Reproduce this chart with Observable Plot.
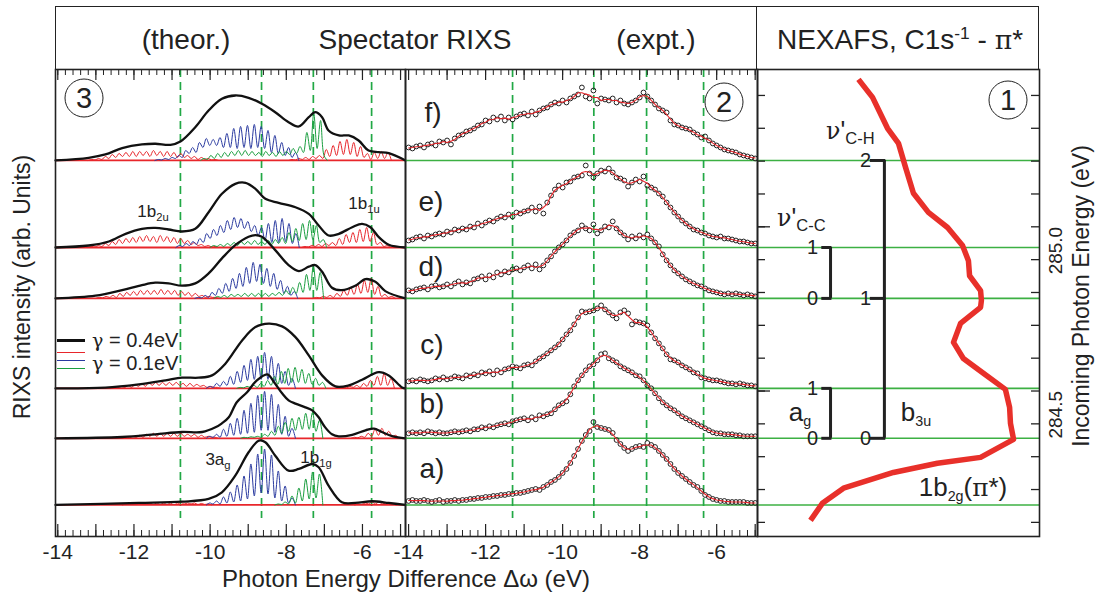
<!DOCTYPE html>
<html><head><meta charset="utf-8">
<script src="https://cdn.jsdelivr.net/npm/d3@7"></script>
<script src="https://cdn.jsdelivr.net/npm/@observablehq/plot@0.6"></script>
<style>
body{margin:0;background:#fff;}
#fig{position:relative;width:1099px;height:599px;font-family:"Liberation Sans",Arial,sans-serif;color:#222;overflow:hidden;background:#fff}
.abs{position:absolute;white-space:nowrap;transform:translate(-50%,-50%);line-height:1}
.lft{position:absolute;white-space:nowrap;transform:translate(0,-50%);line-height:1}
.circ{position:absolute;border:1.7px solid #222;border-radius:50%;width:39px;height:39px;box-sizing:border-box;transform:translate(-50%,-50%);display:flex;align-items:center;justify-content:center;font-size:29px;line-height:1}
.panel{position:absolute;top:69px}
.sb{font-size:0.66em;position:relative;top:0.32em;line-height:1}
.sp{font-size:0.62em;position:relative;top:-0.55em;line-height:1}
.gk{font-family:"DejaVu Serif","Liberation Serif",serif;font-size:0.95em;line-height:1}
.rot{position:absolute;white-space:nowrap;line-height:1;transform:translate(-50%,-50%) rotate(-90deg)}
.leg{position:absolute;left:57px;width:28px}
</style></head><body>
<div id="fig">
  <div id="pLeft" class="panel" style="left:55px"></div>
  <div id="pMid" class="panel" style="left:405px"></div>
  <div id="pRight" class="panel" style="left:757px"></div>

  <div style="position:absolute;left:55px;top:6px;width:984px;height:64px;box-sizing:border-box;border:1.5px solid #222;border-bottom:none"></div>
  <div style="position:absolute;left:756px;top:6px;height:63px;border-left:1.5px solid #222"></div>
  <div class="abs" style="left:186px;top:40px;font-size:28px">(theor.)</div>
  <div class="abs" style="left:415px;top:40px;font-size:28px">Spectator RIXS</div>
  <div class="abs" style="left:656px;top:40px;font-size:28px">(expt.)</div>
  <div class="abs" style="left:900px;top:40px;font-size:28px">NEXAFS, C1s<span class="sp">-1</span> - <span class="gk">π</span>*</div>

  <div class="rot" style="left:22px;top:287px;font-size:23px">RIXS intensity (arb. Units)</div>
  <div class="rot" style="left:1081px;top:296px;font-size:23px">Incoming Photon Energy (eV)</div>
  <div class="abs" style="left:406px;top:579px;font-size:24px">Photon Energy Difference Δω (eV)</div>

  <div class="circ" style="left:84px;top:98px">3</div>
  <div class="circ" style="left:724px;top:102px">2</div>
  <div class="circ" style="left:1008px;top:100px">1</div>

  <div class="abs" style="left:153px;top:211px;font-size:17px">1b<span class="sb">2u</span></div>
  <div class="abs" style="left:364px;top:203px;font-size:17px">1b<span class="sb">1u</span></div>
  <div class="abs" style="left:218px;top:459px;font-size:17px">3a<span class="sb">g</span></div>
  <div class="abs" style="left:316px;top:457px;font-size:17px">1b<span class="sb">1g</span></div>

  <div class="leg" style="top:339px;height:3px;background:#111"></div>
  <div class="leg" style="top:352px;height:1.3px;background:#e8262b"></div>
  <div class="leg" style="top:360px;height:1.3px;background:#2a3aa0"></div>
  <div class="leg" style="top:368px;height:1.3px;background:#1a9e3f"></div>
  <div class="lft" style="left:92px;top:340px;font-size:20px;height:20px"><span class="gk">γ</span> = 0.4eV</div>
  <div class="lft" style="left:92px;top:363px;font-size:20px;height:20px"><span class="gk">γ</span> = 0.1eV</div>

  <div class="abs" style="left:433px;top:113px;font-size:28px">f)</div>
  <div class="abs" style="left:431px;top:202px;font-size:28px">e)</div>
  <div class="abs" style="left:431px;top:267px;font-size:28px">d)</div>
  <div class="abs" style="left:432px;top:345px;font-size:28px">c)</div>
  <div class="abs" style="left:432px;top:404px;font-size:28px">b)</div>
  <div class="abs" style="left:432px;top:469px;font-size:28px">a)</div>

  <div class="lft" style="left:826px;top:131px;font-size:25px"><span class="gk">ν</span>'<span class="sb">C-H</span></div>
  <div class="lft" style="left:777px;top:218px;font-size:25px"><span class="gk">ν</span>'<span class="sb">C-C</span></div>
  <div class="abs" style="left:800px;top:412px;font-size:26px">a<span class="sb" style="font-size:0.55em">g</span></div>
  <div class="abs" style="left:916px;top:412px;font-size:26px">b<span class="sb" style="font-size:0.55em">3u</span></div>
  <div class="abs" style="left:963px;top:487px;font-size:26px">1b<span class="sb" style="font-size:0.55em">2g</span>(<span class="gk">π</span>*)</div>
</div>
<script>
// ---------------- data ----------------
const spectrumLabels = ["a)", "b)", "c)", "d)", "e)", "f)"];
// excitation (incoming photon) energies of the six spectra, eV
const excitationEnergy = [284.153, 284.356, 284.508, 284.782, 284.937, 285.202];
// vertical dashed guide lines (eV)
const dashTheory = [-10.78, -8.65, -7.29, -5.76];
const dashExpt = [-11.30, -9.19, -7.82, -6.34];
// axis ticks
const xLabelTicks = [-14, -12, -10, -8, -6];
const xMajorTicks = [-14, -13, -12, -11, -10, -9, -8, -7, -6, -5];
const energyTicks = [284.1, 284.2, 284.3, 284.4, 284.5, 284.6, 284.7, 284.8, 284.9, 285.0, 285.1, 285.2, 285.3, 285.4];
const energyLabelTicks = [284.5, 285.0];

// theory, gamma = 0.4 eV envelope: [energy difference, intensity]
const broadCurves = [
  [[-14.06,0],[-11.87,2],[-10.74,3.3],[-10.04,6],[-9.69,12.7],[-9.34,29.3],[-8.99,52.7],[-8.72,64.3],[-8.55,62.7],[-8.29,49.3],[-7.94,34.3],[-7.67,36],[-7.32,41],[-7.15,37.7],[-6.89,19.3],[-6.54,2.7],[-6.19,2],[-5.75,3.7],[-5.31,2],[-4.87,0]],
  [[-14.06,0],[-12.31,1.3],[-11.44,4],[-10.74,6.3],[-10.21,6.3],[-9.86,11],[-9.69,15],[-9.51,21],[-9.3,36],[-9.03,46],[-8.8,57],[-8.5,64],[-8.3,55],[-8.11,45],[-7.94,38],[-7.76,34.7],[-7.5,31],[-7.32,28],[-7.15,21],[-7.0,12],[-6.8,4],[-6.62,2],[-6.27,3.5],[-5.92,8],[-5.7,9.7],[-5.49,6.3],[-5.2,2],[-4.87,0]],
  [[-14.06,0],[-12.75,0.7],[-11.87,4],[-11.17,8],[-10.74,10.7],[-10.30,10.7],[-9.95,13],[-9.60,24.7],[-9.16,48],[-8.81,61.3],[-8.46,64.7],[-8.11,62],[-7.76,51.3],[-7.41,33],[-7.06,13],[-6.71,2],[-6.36,3],[-6.01,8.7],[-5.57,16.3],[-5.31,13],[-4.96,1],[-4.87,0]],
  [[-14.06,0],[-13.01,2.7],[-12.31,8.3],[-11.79,13.3],[-11.44,15.7],[-11.09,15],[-10.74,12.7],[-10.39,15],[-10.04,25],[-9.69,40],[-9.34,53.3],[-8.99,61.7],[-8.81,63.3],[-8.64,61.7],[-8.29,48.3],[-7.94,33.3],[-7.67,27.3],[-7.41,31.7],[-7.24,33.3],[-7.06,26.7],[-6.80,10.7],[-6.54,8.3],[-6.19,12.7],[-5.92,19.3],[-5.66,16.7],[-5.40,7.3],[-4.87,0]],
  [[-14.06,0],[-13.19,2],[-12.66,6],[-12.22,13.7],[-11.79,18.7],[-11.44,19.7],[-11.09,18],[-10.74,16],[-10.39,18.7],[-10.04,35.3],[-9.69,53.7],[-9.34,63.7],[-9.07,64.7],[-8.81,58.7],[-8.55,48.7],[-8.20,44.7],[-7.76,40.3],[-7.41,33.7],[-7.15,22],[-6.89,12],[-6.62,13.7],[-6.27,20.3],[-6.01,23.7],[-5.79,20.3],[-5.57,10.3],[-5.31,2.7],[-4.87,0]],
  [[-14.06,0],[-13.19,2.7],[-12.75,6],[-12.31,12.3],[-11.79,16],[-11.44,16.7],[-11.04,15.7],[-10.78,19],[-10.39,33.3],[-10.04,50],[-9.69,61.7],[-9.34,65],[-8.99,62.7],[-8.64,56.7],[-8.29,48.3],[-7.94,38.3],[-7.67,34],[-7.41,43.3],[-7.24,48.3],[-7.06,43.3],[-6.89,30],[-6.62,25],[-6.36,25],[-6.10,20],[-5.84,10],[-5.57,8.3],[-5.31,7.3],[-4.87,0]]
];

// theory, gamma = 0.1 eV vibrational progressions: start energy and successive
// trough/peak intensities read every half vibrational quantum (0.09 eV)
const redLowStart = [-12.3, -12.3, -12.6, -13.0, -13.2, -13.2];
const redLowHeights = [
  [0,1,0.5,1.5,0.5,2,1,2,1,2.5,1,2.5,1,2.5,1,3,1,2.5,1,2,1,2,0.5,1.5,0.5,1,0],
  [0,1,0.5,2,1,3,1,4,2,5,2,5,2,5,2,5,2,5,2,4,2,4,1,3,1,2,1,1,0],
  [0,1,0.5,2,1,3,1,4,2,5,2,6,3,6,3,6,3,6,3,6,3,5,2,5,2,4,2,3,1,2,1,1,0],
  [0,1,0.5,2,1,3,1,5,2,6,3,7,3,8,4,8,4,8,4,9,4,8,4,8,3,7,3,6,2,5,2,3,1,2,1,1,0],
  [0,1,0.5,2,1,4,2,6,3,8,4,9,5,10,5,11,6,12,6,11,5,12,6,11,5,10,4,9,4,7,3,5,2,3,1,2,0.5,1,0],
  [0,1,0.5,2,1,4,2,6,3,7,4,8,4,9,4,9,5,9,4,10,5,9,4,9,4,8,3,7,3,5,2,4,1,3,1,2,0.5,1,0]
];
const redHighStart = [-6.2, -6.3, -6.6, -7.3, -7.6, -7.94];
const redHighHeights = [
  [0,1,0.5,2,1,3,1,3,1,2,0.5,1,0],
  [0,1,0.5,2,1,5,2,9,3,10,3,7,2,3,0],
  [0,1,0.5,2,1,3,1,5,2,8,3,12,3,15,3,10,0],
  [0,1,0.5,2,1,3,1,5,2,8,3,11,4,14,5,18,6,20,4,12,2,4,1,2,0],
  [0,1,0.5,2,1,3,1,4,2,5,2,9,3,13,5,15,5,18,6,20,6,15,3,5,1,2,0],
  [0,1,0.5,2,1,3,1,4,2,5,2,11,4,15,5,19,6,21,6,18,4,14,3,7,1,8,2,9,2,8,0]
];
const blueStart = [-10.1, -10.1, -10.1, -10.4, -10.9, -11.45];
const blueHeights = [
  [0,2,1,4,1,8,2,13,3,20,4,29,6,41,9,51,12,56,11,50,7,34,4,19,2,7,0],
  [0,2,1,4,1,9,2,15,3,20,4,28,5,35,6,43,8,47,8,44,6,34,4,22,2,10,0],
  [0,2,1,5,2,7,3,12,4,17,6,23,8,29,9,32,9,36,9,32,7,25,5,17,3,10,0],
  [0,1,0.5,3,1,6,3,10,5,15,7,20,10,25,12,31,15,36,17,34,15,30,12,25,9,18,5,12,3,7,0],
  [0,2,1,4,2,6,3,9,5,14,9,18,12,22,15,27,18,30,20,29,19,26,16,22,12,20,7,24,5,27,5,29,6,24,4,14,0],
  [0,1,0.5,2,1,3,2,5,3,10,7,13,8,18,13,22,15,21,15,23,13,27,13,32,12,34,13,35,12,36,13,34,12,30,8,25,7,18,5,13,3,8,0]
];
const greenStart = [-8.3, -9.2, -9.3, -9.9, -10.0, -10.25];
const greenHeights = [
  [0,1,0.5,3,1,9,2,17,4,26,6,33,7,31,0],
  [0,1,0.5,1.5,1,2,1,4,2,7,3,12,5,16,7,20,8,21,9,25,9,26,7,18,0],
  [0,1,0.5,2,1,3,1,5,2,8,3,12,4,17,5,20,6,21,6,19,5,15,4,10,3,6,0],
  [0,2,1,3,1,4,2,4,2,5,2,5,2,5,2,5,2,5,3,6,3,8,4,11,5,16,6,24,8,32,8,26,0],
  [0,2,1,3,1,4,2,5,2,6,3,6,3,7,3,6,3,7,3,8,4,10,4,15,6,19,7,24,8,27,8,22,5,8,0],
  [0,2,1,5,2,7,3,8,4,9,5,10,5,10,5,9,5,8,4,9,5,8,4,9,5,9,6,12,7,14,8,28,10,47,12,40,5,0]
];

// experiment: counts sampled every 0.1 eV from -14.0 to -5.0
const exptStart = -14.0, exptStep = 0.1;
const exptHeights = [
  [4,5,4,4,5,4,3,4,5,3, 4,4,5,4,5,5,6,6,7,7, 8,8,9,9,10,10,11,11,12,12, 13,14,15,16,15,18,20,23,25,28, 32,36,42,49,56,64,70,74,83,78, 77,76,75,72,65,61,57,54,56,58, 59,58,62,60,58,54,50,46,41,36, 32,29,26,23,20,18,14,10,8,6, 5,4,4,3,3,3,3,3,2,2, 2],
  [5,6,5,6,5,7,6,5,6,5, 5,6,7,6,7,8,7,9,9,11, 10,12,11,13,14,15,14,17,18,19, 20,18,21,19,23,22,24,25,29,33, 35,37,44,52,58,63,68,72,74,78, 84,85,80,78,76,72,70,68,66,63, 62,58,53,50,45,40,36,33,30,28, 25,22,20,18,16,14,12,10,8,6, 5,5,4,4,4,3,3,2,2,2, 2],
  [7,8,7,9,8,7,8,10,9,11, 9,10,12,11,10,13,12,14,13,16, 15,17,14,18,16,19,20,22,21,20, 23,24,23,27,30,32,35,38,41,44, 49,54,58,64,71,77,76,77,78,80, 83,79,76,73,70,76,78,75,64,67, 66,65,63,56,50,45,40,34,29,28, 26,23,21,19,16,15,11,10,9,8, 8,7,6,5,5,4,5,4,3,3, 2],
  [8,7,9,10,11,9,12,13,11,12, 14,12,15,17,14,16,15,19,20,22, 19,23,21,26,24,27,26,29,30,28, 31,33,30,34,29,33,38,42,47,51, 54,58,63,66,68,73,70,68,74,65, 68,72,71,77,70,66,63,59,62,60, 63,61,64,60,56,52,44,38,33,28, 25,22,19,17,15,13,12,10,8,7, 6,5,4,5,4,5,4,3,4,3, 2],
  [7,8,10,11,9,12,11,13,14,13, 16,15,18,17,19,18,21,20,24,22, 25,27,26,29,31,30,33,31,35,34, 36,37,40,36,41,34,45,52,58,62, 60,65,66,70,71,72,82,74,70,74, 77,76,79,75,70,69,67,61,65,68, 66,71,62,60,58,54,51,45,40,35, 31,27,24,21,18,17,15,14,12,11, 10,11,9,9,8,7,6,6,5,4, 4],
  [13,12,14,15,13,16,17,15,19,18, 20,16,22,25,26,29,30,32,35,36, 40,39,43,41,44,40,43,41,44,46, 47,45,49,46,50,52,53,56,58,57, 60,58,62,64,66,73,64,62,70,57, 62,61,60,62,58,60,57,56,58,60, 63,68,64,60,56,52,50,48,40,36, 35,33,32,31,28,26,23,24,20,17, 15,13,11,10,9,8,6,5,4,3, 2]
];

// NEXAFS, C1s -> pi*
const nexafsEnergy = [285.449,285.394,285.300,285.254,285.181,285.102,285.044,284.998,284.943,284.897,284.851,284.806,284.776,284.755,284.706,284.648,284.599,284.554,284.505,284.450,284.402,284.353,284.298,284.280,284.252,284.204,284.158,284.106];
const nexafsIntensity = [35.8,40.8,46.1,50.0,52.5,55.3,60.6,67.4,72.7,74.8,75.2,79.1,79.4,79.1,72.0,69.5,73.0,80.1,87.9,89.4,89.7,90.8,79.1,63.8,48.2,30.5,23.0,18.8];

// vibrational level assignments (indices into the spectra) and quantum numbers
const chLevels = [1, 3, 5], chQuanta = [0, 1, 2];
const ccLevels = [3, 4], ccQuanta = [0, 1];
const agLevels = [1, 2], agQuanta = [0, 1];

// ---------------- drawing ----------------
const FONT = '"Liberation Sans", Arial, sans-serif';
const INK = "#222", RED = "#e8262b", BLUE = "#2a3aa0", GREEN = "#1a9e3f", GUIDE = "#21a845", LINEGREEN = "#3cb043";
const PANEL_H = 467;
const Y_DOMAIN = [284.057, 285.479];
const UNIT = 1 / 328.5;      // stacking: intensity unit expressed in eV of the shared vertical axis
const HALF_STEP = 0.09;
const xMinorTicks = d3.range(-14, -4.85, 0.2);
const style = {overflow: "visible", background: "transparent", fontFamily: FONT, color: INK};

function progression(starts, heights, tag) {
  return heights.flatMap((hs, s) => hs.map((h, i) => ({x: starts[s] + i * HALF_STEP, y: excitationEnergy[s] + h * UNIT, z: tag + s})));
}
const redRows = progression(redLowStart, redLowHeights, "rl").concat(progression(redHighStart, redHighHeights, "rh"));
const blueRows = progression(blueStart, blueHeights, "b");
const greenRows = progression(greenStart, greenHeights, "g");
const broadRows = broadCurves.flatMap((pts, s) => pts.map(([x, h]) => ({x, y: excitationEnergy[s] + h * UNIT, z: s})));
const exptRows = exptHeights.flatMap((hs, s) => hs.map((h, i) => ({x: exptStart + i * exptStep, y: excitationEnergy[s] + h * UNIT, z: s})));

function frameTicks() {
  return [
    Plot.ruleX(xMinorTicks, {insetBottom: PANEL_H - 6, stroke: INK, strokeWidth: 1}),
    Plot.ruleX(xMinorTicks, {insetTop: PANEL_H - 6, stroke: INK, strokeWidth: 1}),
    Plot.ruleX(xMajorTicks, {insetBottom: PANEL_H - 11, stroke: INK, strokeWidth: 1.2}),
    Plot.ruleX(xMajorTicks, {insetTop: PANEL_H - 12, stroke: INK, strokeWidth: 1.2}),
    Plot.axisX(xLabelTicks, {anchor: "bottom", label: null, tickSize: 0, tickPadding: 8, fontSize: 21, tickFormat: d => String(d)})
  ];
}

const left = Plot.plot({
  width: 350, height: PANEL_H, margin: 0, style,
  x: {domain: [-14.06, -4.87]},
  y: {domain: Y_DOMAIN, axis: null},
  marks: [
    Plot.ruleX(dashTheory, {stroke: GUIDE, strokeWidth: 1.7, strokeDasharray: "8,5", insetBottom: 18}),
    Plot.ruleY(excitationEnergy, {stroke: RED, strokeWidth: 1.8}),
    Plot.line(redRows, {x: "x", y: "y", z: "z", stroke: RED, strokeWidth: 1, curve: "catmull-rom"}),
    Plot.line(blueRows, {x: "x", y: "y", z: "z", stroke: BLUE, strokeWidth: 1, curve: "catmull-rom"}),
    Plot.line(greenRows, {x: "x", y: "y", z: "z", stroke: GREEN, strokeWidth: 1, curve: "catmull-rom"}),
    Plot.line(broadRows, {x: "x", y: "y", z: "z", stroke: "#111", strokeWidth: 2.3, curve: "catmull-rom"}),
    ...frameTicks(),
    Plot.frame({stroke: INK, strokeWidth: 1.6})
  ]
});
document.getElementById("pLeft").append(left);

const mid = Plot.plot({
  width: 352, height: PANEL_H, margin: 0, style,
  x: {domain: [-14.08, -4.94]},
  y: {domain: Y_DOMAIN, axis: null},
  marks: [
    Plot.ruleY(excitationEnergy, {stroke: LINEGREEN, strokeWidth: 1.6}),
    Plot.ruleX(dashExpt, {stroke: GUIDE, strokeWidth: 1.7, strokeDasharray: "8,5", insetBottom: 18}),
    Plot.dot(exptRows, {x: "x", y: "y", r: 2.4, stroke: INK, strokeWidth: 1, fill: "none"}),
    Plot.line(exptRows, Plot.windowY({k: 3}, {x: "x", y: "y", z: "z", stroke: RED, strokeWidth: 1.1})),
    ...frameTicks(),
    Plot.frame({stroke: INK, strokeWidth: 1.6})
  ]
});
document.getElementById("pMid").append(mid);

const W_R = 282;
const nexafsRows = nexafsEnergy.map((e, i) => ({e, v: nexafsIntensity[i]}));
function bracket(levels, quanta, xv, xt, xl) {
  const rows = levels.map((s, j) => ({y: excitationEnergy[s], q: quanta[j]}));
  return [
    Plot.ruleX([0], {x: () => xv, y1: () => excitationEnergy[levels[0]], y2: () => excitationEnergy[levels[levels.length - 1]], stroke: INK, strokeWidth: 3}),
    Plot.ruleY(rows, {y: "y", x1: () => xt, x2: () => xv + 0.5, stroke: INK, strokeWidth: 3}),
    Plot.text(rows, {y: "y", x: () => xl, text: d => String(d.q), fontSize: 20, fill: INK})
  ];
}
const right = Plot.plot({
  width: W_R, height: PANEL_H, margin: 0, style,
  x: {domain: [0, 100], axis: null},
  y: {domain: Y_DOMAIN, axis: null},
  marks: [
    Plot.ruleY(excitationEnergy, {stroke: LINEGREEN, strokeWidth: 1.6}),
    Plot.ruleY(energyTicks, {insetRight: W_R - 8, stroke: INK, strokeWidth: 1.3}),
    Plot.ruleY(energyLabelTicks, {insetRight: W_R - 13, stroke: INK, strokeWidth: 1.3}),
    Plot.ruleY(energyTicks, {insetLeft: W_R - 8, stroke: INK, strokeWidth: 1.3}),
    Plot.line(nexafsRows, {x: "v", y: "e", stroke: "#e8302a", strokeWidth: 5.5, strokeLinejoin: "round", strokeLinecap: "butt"}),
    ...bracket(chLevels, chQuanta, 45, 40, 38.3),
    ...bracket(ccLevels, ccQuanta, 25.9, 22.8, 19.5),
    ...bracket(agLevels, agQuanta, 25.9, 22.8, 19.5),
    Plot.text(energyLabelTicks, {y: d => d, text: d => d.toFixed(1), frameAnchor: "right", dx: 16, rotate: -90, fontSize: 19, fill: INK}),
    Plot.frame({stroke: INK, strokeWidth: 1.6})
  ]
});
document.getElementById("pRight").append(right);
</script>
</body></html>
